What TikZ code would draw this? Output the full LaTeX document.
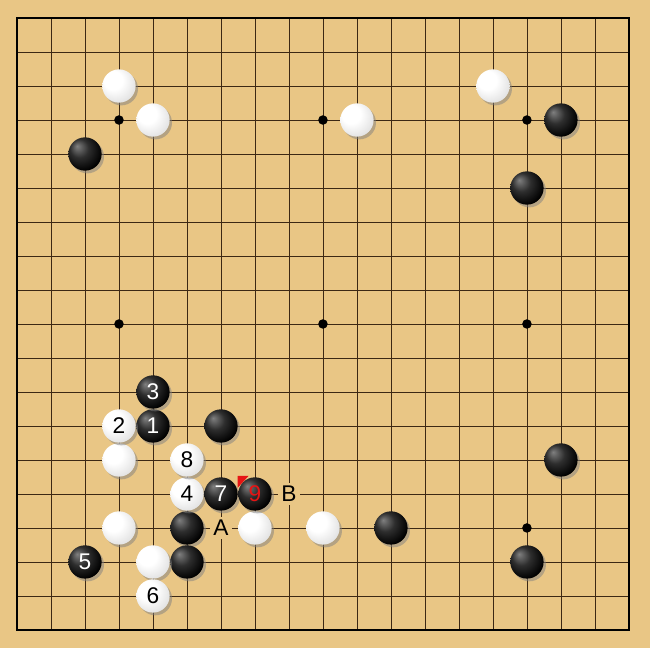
\documentclass[tikz,border=0pt]{standalone}
\usepackage{fontspec}
\setmainfont{Liberation Sans}
\usetikzlibrary{shadows}
\definecolor{woodcol}{RGB}{233,198,133}
\definecolor{gridcol}{RGB}{60,40,20}
\definecolor{marker}{RGB}{230,20,20}
\pgfdeclareradialshading{blackball}{\pgfpoint{-12bp}{12bp}}{color(0bp)=(black!50); color(14bp)=(black!82); color(30bp)=(black); color(50bp)=(black)}
\pgfdeclareradialshading{whiteball}{\pgfpoint{-12bp}{12bp}}{color(0bp)=(white); color(14bp)=(white); color(32bp)=(black!12); color(50bp)=(black!38)}
\tikzset{
  stone/.style={circle, inner sep=0pt, minimum size=0.98cm, font=\fontsize{19}{19}\selectfont,
    drop shadow={shadow xshift=0.07cm, shadow yshift=-0.08cm, opacity=0.5}},
  bstone/.style={stone, shading=blackball, text=white},
  wstone/.style={stone, shading=whiteball, text=black},
  letter/.style={fill=woodcol, inner sep=3pt, font=\fontsize{19}{19}\selectfont}
}
\begin{document}
\begin{tikzpicture}[x=1cm, y=-1cm]
	\fill[woodcol] (-0.5,-0.53) rectangle (18.62,18.53);
	\useasboundingbox (-0.5,-0.53) rectangle (18.62,18.53);
	\foreach \i in {0,...,18} {
		\draw[gridcol, line width=0.6pt] (\i,0) -- (\i,18);
		\draw[gridcol, line width=0.6pt] (0,\i) -- (18,\i);
	}
	\draw[black, line width=1.6pt] (0,0) rectangle (18,18);
	\foreach \x in {3,9,15} \foreach \y in {3,9,15} \fill (\x,\y) circle (0.14);
	\fill[marker] (6.49,13.47) -- (6.81,13.47) -- (6.49,13.82) -- cycle;
	% unnumbered stones
	\foreach \x/\y [count=\k] in {2/4,16/3,15/5,6/12,16/13,5/15,11/15,5/16,15/16}
		\node[bstone] (b\k) at (\x,\y) {};
	\foreach \x/\y [count=\k] in {3/2,4/3,10/3,14/2,3/13,3/15,7/15,9/15,4/16}
		\node[wstone] (w\k) at (\x,\y) {};
	% moves
	\node[bstone] (m1) at (4,12) {1};
	\node[wstone] (m2) at (3,12) {2};
	\node[bstone] (m3) at (4,11) {3};
	\node[wstone] (m4) at (5,14) {4};
	\node[bstone] (m5) at (2,16) {5};
	\node[wstone] (m6) at (4,17) {6};
	\node[bstone] (m7) at (6,14) {7};
	\node[wstone] (m8) at (5,13) {8};
	\node[bstone, text=marker] (m9) at (7,14) {9};
	\node[letter] (pa) at (6,15) {A};
	\node[letter] (pb) at (8,14) {B};
\end{tikzpicture}
\end{document}
